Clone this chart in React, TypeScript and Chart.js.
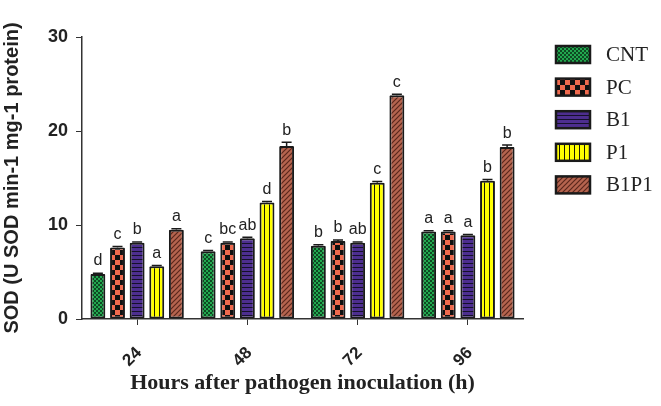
import React, { useEffect, useRef } from 'react';
import { Chart, registerables } from 'chart.js';

Chart.register(...registerables);

const categories = ['24', '48', '72', '96'];
const seriesNames = ['CNT', 'PC', 'B1', 'P1', 'B1P1'];

const cntValues = [4.8, 7.2, 7.8, 9.3];
const pcValues = [7.6, 8.1, 8.3, 9.3];
const b1Values = [8.1, 8.6, 8.1, 8.9];
const p1Values = [5.6, 12.4, 14.5, 14.7];
const b1p1Values = [9.5, 18.4, 23.8, 18.3];

const cntErrors = [0.08, 0.1, 0.1, 0.1];
const pcErrors = [0.1, 0.1, 0.1, 0.1];
const b1Errors = [0.1, 0.1, 0.1, 0.1];
const p1Errors = [0.08, 0.1, 0.12, 0.15];
const b1p1Errors = [0.1, 0.4, 0.1, 0.2];

const cntLetters = ['d', 'c', 'b', 'a'];
const pcLetters = ['c', 'bc', 'b', 'a'];
const b1Letters = ['b', 'ab', 'ab', 'a'];
const p1Letters = ['a', 'd', 'c', 'b'];
const b1p1Letters = ['a', 'b', 'c', 'b'];

const yTicks = [0, 10, 20, 30];

function makePattern(kind: string): CanvasPattern | string {
  const c = document.createElement('canvas');
  const g = c.getContext('2d');
  if (!g) return '#888';
  if (kind === 'CNT') {
    c.width = 4; c.height = 4;
    g.fillStyle = '#0e4a23'; g.fillRect(0, 0, 4, 4);
    g.fillStyle = '#22a84f'; g.fillRect(0, 0, 2, 2); g.fillRect(2, 2, 2, 2);
  } else if (kind === 'PC') {
    c.width = 10; c.height = 10;
    g.fillStyle = '#f06a4e'; g.fillRect(0, 0, 10, 10);
    g.fillStyle = '#111111'; g.fillRect(0, 0, 5, 5); g.fillRect(5, 5, 5, 5);
  } else if (kind === 'B1') {
    c.width = 4; c.height = 4;
    g.fillStyle = '#4d2e8f'; g.fillRect(0, 0, 4, 4);
    g.fillStyle = '#15102a'; g.fillRect(0, 3, 4, 1);
  } else if (kind === 'P1') {
    c.width = 5; c.height = 5;
    g.fillStyle = '#ffff00'; g.fillRect(0, 0, 5, 5);
    g.fillStyle = '#1a1a00'; g.fillRect(4, 0, 1.2, 5);
  } else {
    c.width = 5; c.height = 5;
    g.fillStyle = '#b5644f'; g.fillRect(0, 0, 5, 5);
    g.strokeStyle = '#5a271c'; g.lineWidth = 1.2;
    g.beginPath();
    g.moveTo(-1, 6); g.lineTo(6, -1);
    g.moveTo(-1, 1); g.lineTo(1, -1);
    g.moveTo(4, 6); g.lineTo(6, 4);
    g.stroke();
  }
  return g.createPattern(c, 'repeat') || '#888';
}

const errorLetterPlugin = {
  id: 'errorLetters',
  afterDatasetsDraw(chart: any) {
    const ctx = chart.ctx;
    const y = chart.scales.y;
    chart.data.datasets.forEach((ds: any, di: number) => {
      const meta = chart.getDatasetMeta(di);
      meta.data.forEach((bar: any, i: number) => {
        const v = ds.data[i];
        const e = ds.errors[i];
        const top = y.getPixelForValue(v + e);
        const base = y.getPixelForValue(v);
        ctx.save();
        ctx.strokeStyle = '#1a1a1a';
        ctx.lineWidth = 1.5;
        ctx.beginPath();
        ctx.moveTo(bar.x, base);
        ctx.lineTo(bar.x, top);
        ctx.moveTo(bar.x - 5, top);
        ctx.lineTo(bar.x + 5, top);
        ctx.stroke();
        ctx.fillStyle = '#222';
        ctx.font = '16px "Liberation Sans", Arial, sans-serif';
        ctx.textAlign = 'center';
        ctx.textBaseline = 'bottom';
        ctx.fillText(ds.letters[i], bar.x, Math.min(top, base - 1) - 4);
        ctx.restore();
      });
    });
  },
};

const legendPlugin = {
  id: 'sideLegend',
  afterDraw(chart: any) {
    const ctx = chart.ctx;
    const x0 = chart.chartArea.right + 33;
    const y0 = chart.chartArea.top + 9;
    chart.data.datasets.forEach((ds: any, i: number) => {
      const y = y0 + i * 32.6;
      ctx.save();
      ctx.fillStyle = ds.backgroundColor;
      ctx.fillRect(x0, y, 34, 17);
      ctx.lineWidth = 2.5;
      ctx.strokeStyle = '#1a1a1a';
      ctx.strokeRect(x0, y, 34, 17);
      ctx.fillStyle = '#222';
      ctx.font = '21px "Liberation Serif", "Times New Roman", serif';
      ctx.textBaseline = 'middle';
      ctx.textAlign = 'left';
      ctx.fillText(ds.label, x0 + 50, y + 9.5);
      ctx.restore();
    });
  },
};

export default function App() {
  const ref = useRef<HTMLCanvasElement | null>(null);

  useEffect(() => {
    if (!ref.current) return;
    const values = [cntValues, pcValues, b1Values, p1Values, b1p1Values];
    const errors = [cntErrors, pcErrors, b1Errors, p1Errors, b1p1Errors];
    const letters = [cntLetters, pcLetters, b1Letters, p1Letters, b1p1Letters];
    const datasets = seriesNames.map((name, i) => ({
      label: name,
      data: values[i],
      errors: errors[i],
      letters: letters[i],
      backgroundColor: makePattern(name),
      borderColor: '#1a1a1a',
      borderWidth: 2,
      borderSkipped: false,
      borderRadius: 1,
      categoryPercentage: 0.89,
      barPercentage: 0.76,
    }));

    const chart = new Chart(ref.current, {
      type: 'bar',
      data: { labels: categories, datasets: datasets as any },
      plugins: [errorLetterPlugin, legendPlugin],
      options: {
        animation: false,
        responsive: false,
        maintainAspectRatio: false,
        layout: { padding: { left: 0, top: 37, right: 138, bottom: 0 } },
        plugins: { legend: { display: false }, tooltip: { enabled: false } },
        scales: {
          x: {
            offset: true,
            grid: { display: true, drawOnChartArea: false, drawTicks: true, tickLength: 6, color: '#333', offset: false },
            border: { display: true, color: '#333', width: 1.5 },
            ticks: {
              color: '#222',
              font: { family: '"Liberation Sans", Arial, sans-serif', size: 17, weight: 'bold' },
              minRotation: 45,
              maxRotation: 45,
              padding: 18,
              labelOffset: 2,
            },
            title: {
              display: true,
              text: 'Hours after pathogen inoculation (h)',
              color: '#222',
              font: { family: '"Liberation Serif", "Times New Roman", serif', size: 22, weight: 'bold' },
              padding: { top: 0, bottom: 9 },
            },
            afterFit: (scale: any) => { scale.height = 87; },
          },
          y: {
            min: 0,
            max: 30,
            afterBuildTicks: (scale: any) => { scale.ticks = yTicks.map((v) => ({ value: v })); },
            grid: { display: true, drawOnChartArea: false, drawTicks: true, tickLength: 6, color: '#333' },
            border: { display: true, color: '#333', width: 1.5 },
            ticks: {
              color: '#222',
              font: { family: '"Liberation Sans", Arial, sans-serif', size: 18, weight: 'bold' },
              padding: 8,
            },
            title: {
              display: true,
              text: 'SOD (U SOD min-1 mg-1 protein)',
              color: '#222',
              font: { family: '"Liberation Sans", Arial, sans-serif', size: 20, weight: 'bold' },
              padding: { top: 0, bottom: 0 },
            },
            afterFit: (scale: any) => { scale.width = 82; },
          },
        },
      },
    });
    return () => chart.destroy();
  }, []);

  return (
    <div style={{ position: 'fixed', left: 0, top: 0, width: 661, height: 406, background: '#fff' }}>
      <canvas ref={ref} width={661} height={406} style={{ width: 661, height: 406 }} />
    </div>
  );
}
